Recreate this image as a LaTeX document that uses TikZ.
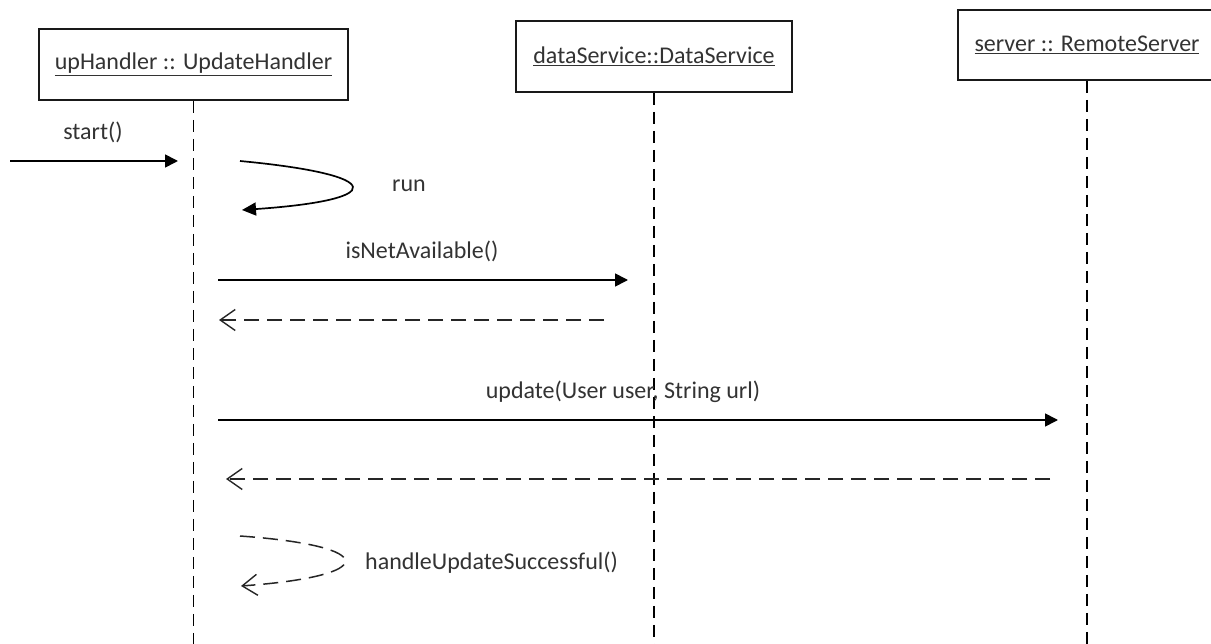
\documentclass[tikz,border=0pt]{standalone}
\usepackage{fontspec}
\setmainfont{Carlito}
\usetikzlibrary{arrows.meta}
\begin{document}
\begin{tikzpicture}[x=1pt,y=-1pt,
  every node/.style={font=\fontsize{24}{27}\selectfont, text=black!80, inner sep=0pt},
  objbox/.style={draw=black!90, line width=1.7pt, fill=white},
  lifeline/.style={draw=black, line width=1.8pt, dash pattern=on 12pt off 7pt},
  msg/.style={draw=black, line width=1.7pt, -{Triangle[length=13pt,width=13pt]}},
  ret/.style={draw=black!85, line width=1.5pt, dash pattern=on 15pt off 8pt, -{Straight Barb[length=15pt,width=21pt,line width=1.4pt]}},
  lbl/.style={}]
\useasboundingbox (0,0) rectangle (1211,644);
\fill[white] (0,0) rectangle (1211,644);
% objects
\node[objbox, minimum width=309pt, minimum height=71pt] (b1) at (193.5,64.5) {\underline{upHandler :: UpdateHandler}};
\node[objbox, minimum width=276pt, minimum height=71pt] (b2) at (654,56.5) {\underline{dataService::DataService}};
\node[objbox, minimum width=258pt, minimum height=70pt] (b3) at (1087,45) {\underline{server :: RemoteServer}};
% lifelines
\coordinate (e1) at (193.5,646);
\coordinate (e2) at (654,646);
\coordinate (e3) at (1087,646);
\draw[lifeline] (b1.south) -- (e1);
\draw[lifeline] (b2.south) -- (e2);
\draw[lifeline] (b3.south) -- (e3);
% start()
\coordinate (s0) at (10,161);
\coordinate (s1) at (178,161);
\draw[msg] (s0) -- (s1);
\node[lbl] (lstart) at (93,132) {start()};
% run
\coordinate (r0) at (240,161);
\coordinate (r1) at (242,210);
\draw[draw=black, line width=1.7pt, -{Triangle[length=14pt,width=13pt]}] (r0) .. controls (388,175) and (388,200) .. (r1);
\node[lbl] (lrun) at (409,186) {run};
% isNetAvailable
\coordinate (n0) at (218,280);
\coordinate (n1) at (628,280);
\draw[msg] (n0) -- (n1);
\node[lbl] (lnet) at (422,251) {isNetAvailable()};
\coordinate (n2) at (604,320);
\coordinate (n3) at (219,320);
\draw[ret] (n2) -- (n3);
% update
\coordinate (u0) at (218,420);
\coordinate (u1) at (1058,420);
\draw[msg] (u0) -- (u1);
\node[lbl] (lupd) at (623,392) {update(User user, String url)};
\coordinate (u2) at (1050,479);
\coordinate (u3) at (226,479);
\draw[ret] (u2) -- (u3);
% handleUpdateSuccessful
\coordinate (h0) at (240,536);
\coordinate (h1) at (241,586);
\draw[ret] (h0) .. controls (380,546) and (380,576) .. (h1);
\node[lbl, anchor=west] (lhand) at (365,563) {handleUpdateSuccessful()};
\end{tikzpicture}
\end{document}
